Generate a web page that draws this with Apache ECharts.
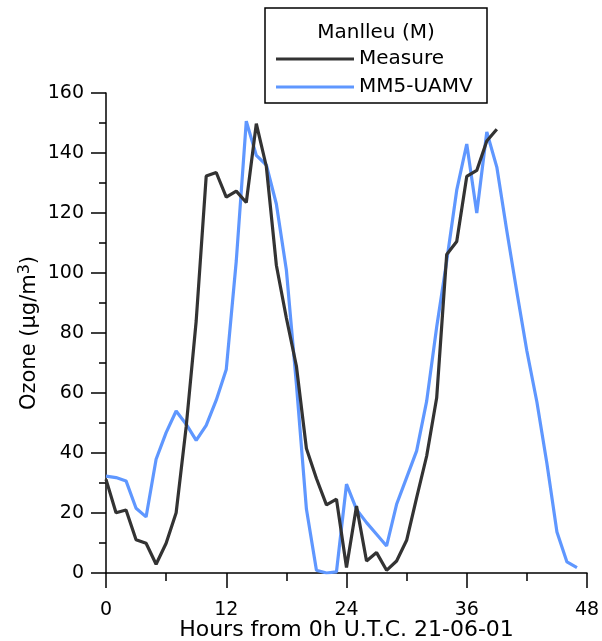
<!DOCTYPE html>
<html>
<head>
<meta charset="utf-8">
<script src="https://cdn.jsdelivr.net/npm/echarts@6/dist/echarts.min.js"></script>
<style>
html,body{margin:0;padding:0;background:#fff;}
#chart{width:602px;height:641px;}
</style>
</head>
<body>
<div id="chart"></div>
<script>
// Data (hours from 0h UTC 21-06-01)
var measureHours = [0,1,2,3,4,5,6,7,8,9,10,11,12,13,14,15,16,17,18,19,20,21,22,23,24,25,26,27,28,29,30,31,32,33,34,35,36,37,38,39];
var measureValues = [31.2,20.1,21,11.1,9.9,2.9,9.9,20.1,48.7,84,132.3,133.5,125.3,127.3,123.5,149.8,135.5,102.6,85,69,41.5,31.5,22.7,24.6,1.8,22.3,4,6.8,0.9,4,10.9,25.1,39,58.4,106.2,110.5,132.2,134.2,144,147.9];
var modelHours = [0,1,2,3,4,5,6,7,8,9,10,11,12,13,14,15,16,17,18,19,20,21,22,23,24,25,26,27,28,29,30,31,32,33,34,35,36,37,38,39,40,41,42,43,44,45,46,47];
var modelValues = [32.3,31.8,30.7,21.6,18.7,37.9,46.8,54,49.6,44.2,49.2,57.6,67.8,104,150.6,139.2,136,123,101,63,21.3,0.9,0,0.4,29.6,21.2,16.8,12.9,9,22.9,31.8,40.7,57.3,82,104,127.6,143,120,147,135.3,114,93.7,74,57,36.5,13.7,3.7,1.8];
var seriesNames = ['Measure','MM5-UAMV'];
var legendTitle = 'Manlleu (M)';
var xTicks = [0,12,24,36,48];
var yTicks = [0,20,40,60,80,100,120,140,160];
var xAxisName = 'Hours from 0h U.T.C. 21-06-01';

function pairs(xs, ys){ return xs.map(function(x,i){ return [x, ys[i]]; }); }

var FONT = 'DejaVu Sans';
var BLACK = '#333333', BLUE = '#5f97ff';
var chart = echarts.init(document.getElementById('chart'), null, {renderer:'canvas'});
chart.setOption({
  animation:false,
  backgroundColor:'#fff',
  grid:{left:106, right:15, top:93, bottom:68, containLabel:false, outerBoundsMode:'none'},
  xAxis:{
    type:'value', min:xTicks[0], max:xTicks[xTicks.length-1], interval:12,
    name:xAxisName, nameLocation:'middle', nameGap:46, nameMoveOverlap:false,
    nameTextStyle:{fontFamily:FONT, fontSize:22, color:'#000', verticalAlign:'top'},
    axisLine:{show:true, onZero:false, lineStyle:{color:'#000', width:1.5}},
    axisTick:{show:true, inside:false, length:15, lineStyle:{color:'#000', width:1.5}},
    minorTick:{show:true, splitNumber:2, length:8, lineStyle:{color:'#000', width:1.5}},
    splitLine:{show:false},
    axisLabel:{fontFamily:FONT, fontSize:19, color:'#000', margin:28}
  },
  yAxis:{
    type:'value', min:yTicks[0], max:yTicks[yTicks.length-1], interval:20,
    name:'{a|Ozone (µg/m}{b|3}{a|)}', nameLocation:'middle', nameGap:64, nameRotate:90, nameMoveOverlap:false,
    nameTextStyle:{fontFamily:FONT, fontSize:21, color:'#000',
      rich:{a:{fontFamily:FONT, fontSize:21, color:'#000'}, b:{fontFamily:FONT, fontSize:16, color:'#000', padding:[0,0,9,0]}}},
    axisLine:{show:true, onZero:false, lineStyle:{color:'#000', width:1.5}},
    axisTick:{show:true, inside:false, length:15, lineStyle:{color:'#000', width:1.5}},
    minorTick:{show:true, splitNumber:2, length:7, lineStyle:{color:'#000', width:1.5}},
    splitLine:{show:false},
    axisLabel:{fontFamily:FONT, fontSize:19, color:'#000', margin:22}
  },
  legend:{
    orient:'vertical', left:271, top:44, itemWidth:78, itemHeight:3, itemGap:8,
    icon:'rect',
    textStyle:{fontFamily:FONT, fontSize:20, color:'#000', padding:[0,0,0,0]},
    data:[{name:seriesNames[0], itemStyle:{color:BLACK}}, {name:seriesNames[1], itemStyle:{color:BLUE}}]
  },
  graphic:[
    {type:'rect', shape:{x:265, y:8, width:222, height:95}, style:{fill:'none', stroke:'#000', lineWidth:1.5}, z:100},
    {type:'text', x:376, y:33, style:{text:legendTitle, fontFamily:FONT, fontSize:20, fill:'#000', align:'center', verticalAlign:'middle'}, z:100}
  ],
  series:[
    {name:seriesNames[0], type:'line', data:pairs(measureHours, measureValues), symbol:'none', showSymbol:false,
     lineStyle:{color:BLACK, width:3.2}, itemStyle:{color:BLACK}, z:3},
    {name:seriesNames[1], type:'line', data:pairs(modelHours, modelValues), symbol:'none', showSymbol:false,
     lineStyle:{color:BLUE, width:3.2}, itemStyle:{color:BLUE}, z:2}
  ]
});
</script>
</body>
</html>
